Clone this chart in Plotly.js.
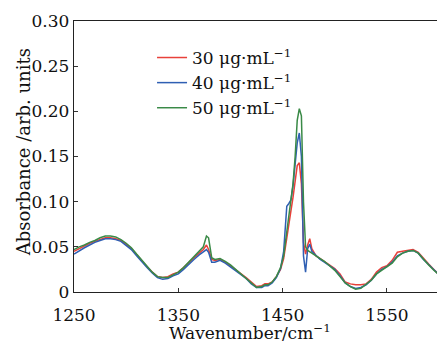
<!DOCTYPE html>
<html><head><meta charset="utf-8">
<script src="https://cdn.plot.ly/plotly-3.0.1.min.js"></script>
<style>html,body{margin:0;padding:0;background:#fff;}#chart{width:437px;height:344px;}</style>
</head><body><div id="chart"></div>
<script>
const wavenumber = [1250,1255,1260,1265,1270,1275,1280,1285,1290,1295,1300,1305,1310,1315,1320,1325,1330,1335,1340,1345,1350,1355,1360,1365,1370,1374,1377,1379,1382,1385,1390,1395,1400,1405,1410,1415,1420,1425,1430,1433,1436,1440,1444,1448,1451,1454,1456,1458,1460,1462,1464,1466,1468,1470,1472,1474,1476,1478,1482,1486,1490,1495,1500,1505,1510,1515,1520,1525,1530,1535,1540,1545,1550,1555,1560,1565,1570,1575,1580,1585,1590,1595,1600];
const abs30 = [0.045,0.048,0.051,0.054,0.056,0.058,0.060,0.060,0.059,0.057,0.053,0.048,0.041,0.035,0.028,0.022,0.017,0.016,0.017,0.020,0.022,0.027,0.033,0.038,0.043,0.047,0.052,0.047,0.036,0.035,0.036,0.033,0.029,0.025,0.021,0.016,0.011,0.006,0.007,0.009,0.009,0.011,0.017,0.025,0.037,0.060,0.080,0.090,0.105,0.125,0.140,0.143,0.120,0.055,0.042,0.052,0.059,0.048,0.040,0.037,0.034,0.030,0.026,0.020,0.011,0.009,0.008,0.008,0.009,0.014,0.022,0.027,0.029,0.035,0.044,0.045,0.046,0.047,0.044,0.037,0.031,0.025,0.019];
const abs40 = [0.042,0.046,0.049,0.052,0.055,0.057,0.059,0.059,0.058,0.056,0.052,0.047,0.040,0.033,0.027,0.021,0.016,0.014,0.015,0.018,0.020,0.025,0.031,0.036,0.041,0.045,0.047,0.044,0.033,0.033,0.035,0.032,0.028,0.024,0.020,0.015,0.009,0.005,0.005,0.007,0.007,0.010,0.016,0.026,0.045,0.095,0.098,0.102,0.118,0.140,0.165,0.176,0.150,0.040,0.022,0.048,0.053,0.045,0.040,0.036,0.033,0.029,0.025,0.018,0.010,0.006,0.004,0.005,0.008,0.013,0.020,0.025,0.028,0.033,0.040,0.043,0.045,0.046,0.043,0.036,0.030,0.024,0.019];
const abs50 = [0.047,0.050,0.052,0.055,0.057,0.060,0.062,0.062,0.061,0.058,0.054,0.049,0.042,0.035,0.028,0.022,0.017,0.016,0.016,0.019,0.022,0.027,0.033,0.038,0.044,0.050,0.062,0.060,0.038,0.036,0.037,0.034,0.030,0.025,0.021,0.015,0.010,0.005,0.006,0.008,0.008,0.011,0.017,0.027,0.040,0.065,0.085,0.100,0.120,0.150,0.190,0.203,0.195,0.100,0.050,0.046,0.044,0.043,0.040,0.037,0.034,0.029,0.024,0.017,0.010,0.006,0.003,0.004,0.008,0.013,0.020,0.024,0.027,0.032,0.039,0.043,0.045,0.046,0.043,0.036,0.030,0.024,0.019];
const seriesNames = ['30 μg·mL<sup>−1</sup>','40 μg·mL<sup>−1</sup>','50 μg·mL<sup>−1</sup>'];
const seriesColors = ['#e8413a','#2f5fb3','#3a8a47'];
const xTickVals = [1250,1350,1450,1550];
const xTickText = ['1250','1350','1450','1550'];
const yTickVals = [0,0.05,0.10,0.15,0.20,0.25,0.30];
const yTickText = ['0','0.05','0.10','0.15','0.20','0.25','0.30'];
const xTitle = 'Wavenumber/cm<sup>−1</sup>';
const yTitle = 'Absorbance /arb. units';

const FONT = 'DejaVu Serif, serif';
const series = [abs30, abs40, abs50];
const traces = series.map((ys,i)=>({
  x: wavenumber, y: ys, type:'scatter', mode:'lines', name: seriesNames[i],
  line:{color: seriesColors[i], width:1.5}
}));
const layout = {
  width:437, height:344,
  margin:{l:74, r:0, t:21, b:52},
  paper_bgcolor:'#fff', plot_bgcolor:'#fff',
  font:{family:FONT, size:17, color:'#111'},
  showlegend:true,
  legend:{x:0.215, y:0.93, xanchor:'left', yanchor:'top', bgcolor:'rgba(0,0,0,0)',
          font:{family:FONT, size:17, color:'#111'}, tracegroupgap:0, itemwidth:30},
  xaxis:{range:[1250,1598], tickvals:xTickVals, ticktext:xTickText, ticks:'inside', ticklen:4,
         tickcolor:'#333', showline:true, linecolor:'#222', linewidth:1.2, mirror:true,
         showgrid:false, zeroline:false, tickfont:{family:FONT, size:17}, ticklabelstandoff:7},
  yaxis:{range:[0,0.30], tickvals:yTickVals, ticktext:yTickText, ticks:'inside', ticklen:4,
         tickcolor:'#333', showline:true, linecolor:'#222', linewidth:1.2,
         showgrid:false, zeroline:false, tickfont:{family:FONT, size:17}},
  annotations:[
    {text:xTitle, xref:'paper', yref:'paper', x:0.485, y:-0.148, xanchor:'center', yanchor:'middle',
     showarrow:false, font:{family:FONT, size:17, color:'#111'}},
    {text:yTitle, xref:'paper', yref:'paper', x:-0.138, y:0.515, xanchor:'center', yanchor:'middle',
     textangle:-90, showarrow:false, font:{family:FONT, size:18, color:'#111'}}
  ]
};
Plotly.newPlot('chart', traces, layout, {displayModeBar:false, staticPlot:true});
</script></body></html>
